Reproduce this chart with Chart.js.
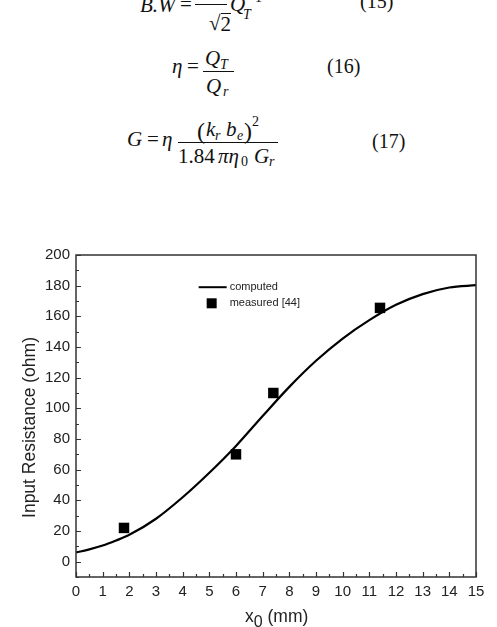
<!DOCTYPE html>
<html>
<head>
<meta charset="utf-8">
<script src="https://cdn.jsdelivr.net/npm/chart.js@4.4.1/dist/chart.umd.min.js"></script>
<style>
  html, body { margin: 0; padding: 0; background: #fff; }
  body { width: 497px; height: 627px; position: relative; overflow: hidden; }
  .eq span { position: absolute; font-family: "Liberation Serif", "Times New Roman", serif; font-size: 21px; line-height: 21px; color: #111; white-space: nowrap; }
  .eq .i { font-style: italic; }
  .eq .s { font-size: 14px; line-height: 14px; }
  .eq .n { font-size: 20px; line-height: 20px; }
  .eq .p { font-size: 24px; line-height: 24px; }
  .eq .bar { height: 1px; background: #111; }
  #wrap { position: absolute; left: 0; top: 240px; width: 497px; height: 387px; }
  #xtitle { position: absolute; top: 606px; left: 245px; font-family: "Liberation Sans", Arial, sans-serif; font-size: 17.5px; line-height: 20px; color: #222; white-space: nowrap; }
  #xtitle sub { font-size: 16px; vertical-align: -5px; }
</style>
</head>
<body>

<div class="eq">
  <!-- (15), cut off at the top -->
  <span class="i" style="left:140px; top:-5px;">B.W</span>
  <span style="left:180px; top:-6px;">=</span>
  <span class="bar" style="left:195px; top:4px; width:32px;"></span>
  <span style="left:209px; top:13px;">&radic;<span style="border-top:1px solid #111;">2</span></span>
  <span class="i" style="left:230px; top:-6px;">Q</span>
  <span class="i s" style="left:243px; top:8px;">T</span>
  <span class="s" style="left:247px; top:-9px;">&minus;1</span>
  <span class="n" style="left:360px; top:-9px;">(15)</span>

  <!-- (16) -->
  <span class="i" style="left:172px; top:56px;">&eta;</span>
  <span style="left:187px; top:56px;">=</span>
  <span class="i" style="left:205px; top:48px;">Q</span>
  <span class="i s" style="left:220px; top:58px;">T</span>
  <span class="bar" style="left:203px; top:71px; width:31px;"></span>
  <span class="i" style="left:206px; top:76px;">Q</span>
  <span class="i s" style="left:223px; top:85px;">r</span>
  <span class="n" style="left:327px; top:56px;">(16)</span>

  <!-- (17) -->
  <span class="i" style="left:127px; top:129px;">G</span>
  <span style="left:147px; top:129px;">=</span>
  <span class="i" style="left:162px; top:129px;">&eta;</span>
  <span class="p" style="left:197px; top:119px;">(</span>
  <span class="i" style="left:206px; top:119px;">k</span>
  <span class="i s" style="left:215px; top:129px;">r</span>
  <span class="i" style="left:226px; top:119px;">b</span>
  <span class="i s" style="left:237px; top:129px;">e</span>
  <span class="p" style="left:244px; top:119px;">)</span>
  <span class="s" style="left:252px; top:115px;">2</span>
  <span class="bar" style="left:178px; top:142px; width:100px;"></span>
  <span style="left:178px; top:146px;">1.84</span>
  <span class="i" style="left:218px; top:146px;">&pi;&eta;</span>
  <span class="s" style="left:241px; top:155px;">0</span>
  <span class="i" style="left:254px; top:146px;">G</span>
  <span class="i s" style="left:269px; top:155px;">r</span>
  <span class="n" style="left:372px; top:131px;">(17)</span>
</div>

<div id="wrap"><canvas id="chart" width="497" height="387"></canvas></div>
<div id="xtitle">x<sub>0</sub> (mm)</div>

<script>
// =======================
// Data
// =======================
const computedX = [0, 0.5, 1, 1.5, 2, 3, 4, 5, 6, 7, 8, 9, 10, 11, 12, 13, 14, 15]
const computedY = [6, 8, 10.5, 13.8, 17.5, 28, 42, 58, 75.5, 95, 114, 131, 145.5, 157.5, 167.5, 174.5, 178.8, 180.3]

const measuredX = [1.8, 6.0, 7.4, 11.4]
const measuredY = [22, 70, 110, 165.5]

const xTicks = [0, 1, 2, 3, 4, 5, 6, 7, 8, 9, 10, 11, 12, 13, 14, 15]
const yTicks = [0, 20, 40, 60, 80, 100, 120, 140, 160, 180, 200]

const seriesNames = ["computed", "measured [44]"]
const yTitle = "Input Resistance (ohm)"

const INK = "#222"
const FONT = "'Liberation Sans', Arial, sans-serif"


// =======================
// Frame, inward ticks, legend, y title
// =======================
const framePlugin = {
  id: "frame",
  afterDraw(c) {
    const ctx = c.ctx
    const a = c.chartArea
    const xs = c.scales.x
    const ys = c.scales.y

    ctx.save()
    ctx.strokeStyle = "#333"
    ctx.lineWidth = 1.5
    ctx.strokeRect(a.left, a.top, a.right - a.left, a.bottom - a.top)

    // inward ticks on bottom axis, minor every 0.5
    ctx.lineWidth = 1.2
    ctx.beginPath()
    for (let v = xs.min; v <= xs.max + 1e-9; v += 0.5) {
      const px = Math.round(xs.getPixelForValue(v)) + 0.5
      const len = Number.isInteger(v) ? 5 : 3
      ctx.moveTo(px, a.bottom)
      ctx.lineTo(px, a.bottom - len)
    }
    // inward ticks on left axis, minor every 10
    for (let v = -10; v <= ys.max + 1e-9; v += 10) {
      const py = Math.round(ys.getPixelForValue(v)) + 0.5
      const len = v % 20 === 0 ? 5 : 3
      ctx.moveTo(a.left, py)
      ctx.lineTo(a.left + len, py)
    }
    ctx.stroke()

    // legend
    const lx = xs.getPixelForValue(4.6)
    const ly1 = ys.getPixelForValue(179)
    const ly2 = ys.getPixelForValue(168.5)
    ctx.strokeStyle = "#000"
    ctx.lineWidth = 2
    ctx.beginPath()
    ctx.moveTo(lx, ly1)
    ctx.lineTo(lx + 28, ly1)
    ctx.stroke()
    ctx.fillStyle = "#000"
    ctx.fillRect(lx + 8, ly2 - 5, 10, 10)

    ctx.fillStyle = INK
    ctx.font = "11px " + FONT
    ctx.textBaseline = "middle"
    ctx.fillText(seriesNames[0], lx + 31, ly1)
    ctx.fillText(seriesNames[1], lx + 31, ly2)

    // y axis title, sits a bit below the axis middle in the original
    ctx.translate(30, ys.getPixelForValue(87.5))
    ctx.rotate(-Math.PI / 2)
    ctx.textAlign = "center"
    ctx.font = "17.5px " + FONT
    ctx.fillText(yTitle, 0, 0)
    ctx.restore()
  }
}


// =======================
// Chart
// =======================
new Chart(document.getElementById("chart"), {
  type: "scatter",
  data: {
    datasets: [
      {
        label: seriesNames[0],
        type: "line",
        data: computedX.map((x, i) => ({ x, y: computedY[i] })),
        borderColor: "#000",
        borderWidth: 2.2,
        pointRadius: 0,
        fill: false,
        cubicInterpolationMode: "monotone"
      },
      {
        label: seriesNames[1],
        data: measuredX.map((x, i) => ({ x, y: measuredY[i] })),
        backgroundColor: "#000",
        borderColor: "#000",
        borderWidth: 0,
        pointStyle: "rect",
        pointRadius: 7.4
      }
    ]
  },
  options: {
    responsive: false,
    animation: false,
    layout: { padding: { top: 13, right: 21, left: 0, bottom: 0 } },
    plugins: {
      legend: { display: false },
      tooltip: { enabled: false }
    },
    scales: {
      x: {
        type: "linear",
        min: 0,
        max: 15,
        afterBuildTicks: s => { s.ticks = xTicks.map(v => ({ value: v })) },
        afterFit: s => { s.height = 50 },
        grid: { display: false, drawTicks: false },
        border: { display: false },
        ticks: { color: INK, font: { family: FONT, size: 15 }, padding: 6, maxRotation: 0 }
      },
      y: {
        type: "linear",
        min: -10,
        max: 200,
        afterBuildTicks: s => { s.ticks = yTicks.map(v => ({ value: v })) },
        afterFit: s => { s.width = 76 },
        grid: { display: false, drawTicks: false },
        border: { display: false },
        ticks: { color: INK, font: { family: FONT, size: 15 }, padding: 6 }
      }
    }
  },
  plugins: [framePlugin]
})
</script>
</body>
</html>
